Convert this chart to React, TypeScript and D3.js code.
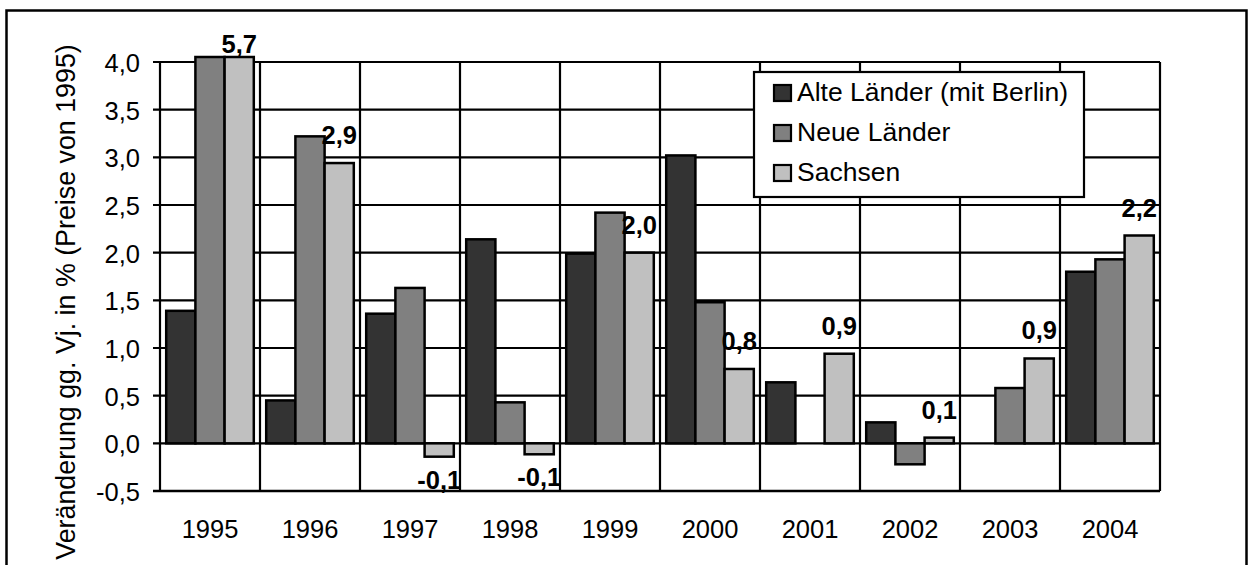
import React, { useEffect, useRef } from 'react';
import * as d3 from 'd3';

// Veränderung gg. Vorjahr in % (Preise von 1995)
const YEARS = ['1995', '1996', '1997', '1998', '1999', '2000', '2001', '2002', '2003', '2004'];
const ALTE_LAENDER = [1.39, 0.45, 1.36, 2.14, 1.99, 3.02, 0.64, 0.22, 0.0, 1.8];
const NEUE_LAENDER = [4.4, 3.22, 1.63, 0.43, 2.42, 1.48, 0.0, -0.22, 0.58, 1.93];
const SACHSEN = [5.7, 2.94, -0.14, -0.115, 2.0, 0.78, 0.94, 0.06, 0.89, 2.18];
const SERIES_NAMES = ['Alte Länder (mit Berlin)', 'Neue Länder', 'Sachsen'];
const Y_TICKS = [-0.5, 0, 0.5, 1, 1.5, 2, 2.5, 3, 3.5, 4];
const Y_TITLE = 'Veränderung gg. Vj. in % (Preise von 1995)';

const COLORS = ['#333333', '#808080', '#c0c0c0'];
const FONT = '"Liberation Sans", Arial, sans-serif';

const de = d3.formatLocale({ decimal: ',', thousands: '.', grouping: [3], currency: ['', ' €'], minus: '-' });
const fmt = de.format('.1f');

export default function App() {
  const svgRef = useRef<SVGSVGElement | null>(null);

  useEffect(() => {
    const svgEl = svgRef.current;
    if (!svgEl) return;
    const svg = d3.select(svgEl);
    svg.selectAll('*').remove();

    const width = 1248;
    const height = 565;
    const left = 160;
    const right = 1160;
    const top = 62;
    const bottom = 491;

    const series = [ALTE_LAENDER, NEUE_LAENDER, SACHSEN];

    const x = d3.scaleBand().domain(YEARS).range([left, right]).paddingInner(0.124).paddingOuter(0.062);
    const xs = d3.scaleBand().domain(['0', '1', '2']).range([0, x.bandwidth()]);
    const y = d3.scaleLinear().domain([-0.5, 4]).range([bottom, top]);

    // outer frame
    svg
      .append('rect')
      .attr('x', 6.5)
      .attr('y', 10.5)
      .attr('width', 1240)
      .attr('height', 600)
      .attr('fill', 'white')
      .attr('stroke', '#000')
      .attr('stroke-width', 2.5);

    // horizontal grid
    svg
      .append('g')
      .selectAll('line')
      .data(Y_TICKS)
      .enter()
      .append('line')
      .attr('x1', left - 7)
      .attr('x2', right)
      .attr('y1', d => y(d))
      .attr('y2', d => y(d))
      .attr('stroke', '#000')
      .attr('stroke-width', d => (d === -0.5 ? 2.6 : 2.2));

    // vertical grid at category boundaries
    const bounds = YEARS.map(yr => (x(yr) as number) - (x.step() - x.bandwidth()) / 2 + x.step());
    svg
      .append('g')
      .selectAll('line')
      .data(bounds)
      .enter()
      .append('line')
      .attr('x1', d => d)
      .attr('x2', d => d)
      .attr('y1', top)
      .attr('y2', bottom)
      .attr('stroke', '#000')
      .attr('stroke-width', 2.2);

    // y axis line
    svg
      .append('line')
      .attr('x1', left)
      .attr('x2', left)
      .attr('y1', top)
      .attr('y2', bottom)
      .attr('stroke', '#000')
      .attr('stroke-width', 2.2);

    // bars
    const maxTop = y(4) - 5;
    series.forEach((vals, si) => {
      svg
        .append('g')
        .selectAll('rect')
        .data(vals)
        .enter()
        .append('rect')
        .attr('x', (d, i) => (x(YEARS[i]) as number) + (xs(String(si)) as number))
        .attr('width', xs.bandwidth())
        .attr('y', d => (d >= 0 ? Math.max(y(d), maxTop) : y(0)))
        .attr('height', d => (d >= 0 ? y(0) - Math.max(y(d), maxTop) : y(d) - y(0)))
        .attr('fill', COLORS[si])
        .attr('stroke', '#000')
        .attr('stroke-width', 2.5);
    });

    // data labels for Sachsen
    svg
      .append('g')
      .selectAll('text')
      .data(SACHSEN)
      .enter()
      .append('text')
      .attr('x', (d, i) => (x(YEARS[i]) as number) + (xs('2') as number) + xs.bandwidth() / 2)
      .attr('y', d => (d >= 0 ? Math.max(y(d) - 19, 53) : y(d) + 32))
      .attr('text-anchor', 'middle')
      .attr('font-family', FONT)
      .attr('font-weight', 'bold')
      .attr('font-size', 25.5)
      .text(d => fmt(d));

    // y tick labels
    svg
      .append('g')
      .selectAll('text')
      .data(Y_TICKS)
      .enter()
      .append('text')
      .attr('x', 140)
      .attr('y', d => y(d) + 10)
      .attr('text-anchor', 'end')
      .attr('font-family', FONT)
      .attr('font-size', 25.5)
      .text(d => fmt(d));

    // x tick labels
    svg
      .append('g')
      .selectAll('text')
      .data(YEARS)
      .enter()
      .append('text')
      .attr('x', d => (x(d) as number) + x.bandwidth() / 2)
      .attr('y', 538)
      .attr('text-anchor', 'middle')
      .attr('font-family', FONT)
      .attr('font-size', 25.5)
      .text(d => d);

    // y title
    svg
      .append('text')
      .attr('transform', `translate(75, ${(43 + 561) / 2}) rotate(-90)`)
      .attr('text-anchor', 'middle')
      .attr('font-family', FONT)
      .attr('font-size', 26.8)
      .text(Y_TITLE);

    // legend
    const lg = svg.append('g');
    lg.append('rect')
      .attr('x', 754)
      .attr('y', 72)
      .attr('width', 330)
      .attr('height', 125)
      .attr('fill', 'white')
      .attr('stroke', '#000')
      .attr('stroke-width', 2.2);
    const item = lg
      .selectAll('g.item')
      .data(SERIES_NAMES)
      .enter()
      .append('g')
      .attr('class', 'item')
      .attr('transform', (d, i) => `translate(0, ${101 + i * 40})`);
    item
      .append('rect')
      .attr('x', 774)
      .attr('y', -16)
      .attr('width', 17)
      .attr('height', 16)
      .attr('fill', (d, i) => COLORS[i])
      .attr('stroke', '#000')
      .attr('stroke-width', 2.2);
    item
      .append('text')
      .attr('x', 797)
      .attr('y', 0)
      .attr('font-family', FONT)
      .attr('font-size', 26.5)
      .text(d => d);

    svg.attr('viewBox', `0 0 ${width} ${height}`);
  }, []);

  return (
    <div style={{ position: 'absolute', left: 0, top: 0, width: 1248, height: 565, background: '#fff' }}>
      <svg ref={svgRef} width={1248} height={565} style={{ display: 'block' }} />
    </div>
  );
}
